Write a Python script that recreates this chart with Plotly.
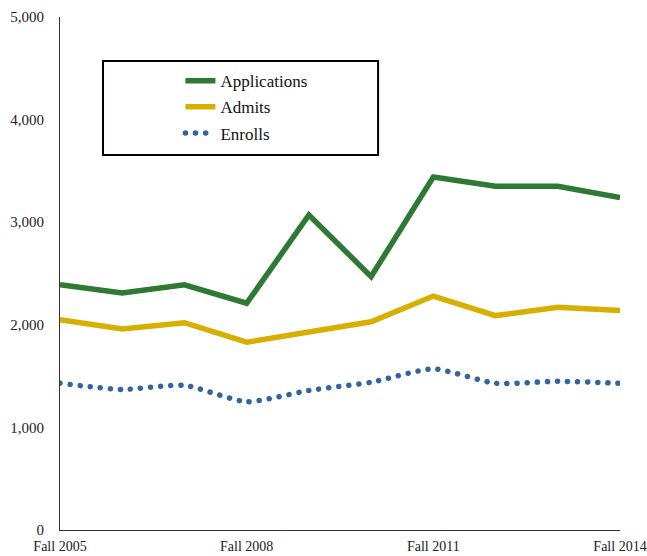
import plotly.graph_objects as go

years = ["Fall 2005", "Fall 2006", "Fall 2007", "Fall 2008", "Fall 2009",
         "Fall 2010", "Fall 2011", "Fall 2012", "Fall 2013", "Fall 2014"]
applications = [2390, 2310, 2390, 2210, 3070, 2470, 3440, 3350, 3350, 3240]
admits = [2050, 1960, 2020, 1830, 1930, 2030, 2280, 2090, 2170, 2140]
enrolls = [1430, 1370, 1410, 1250, 1360, 1440, 1570, 1430, 1450, 1430]
tick_labels = ["Fall 2005", "Fall 2008", "Fall 2011", "Fall 2014"]
y_ticks = [0, 1000, 2000, 3000, 4000, 5000]

FONT = "Liberation Serif"
BLUE = "#33649E"

fig = go.Figure()
fig.add_trace(go.Scatter(x=years, y=applications, name="Applications", mode="lines",
                         line=dict(color="#2E7A35", width=5.5), legendgroup="a"))
fig.add_trace(go.Scatter(x=years, y=admits, name="Admits", mode="lines",
                         line=dict(color="#D6AF00", width=5.5), legendgroup="b"))
fig.add_trace(go.Scatter(x=years, y=enrolls, name="Enrolls", mode="lines",
                         line=dict(color=BLUE, width=5.5, dash="dot", shape="spline", smoothing=0.6),
                         legendgroup="c"))

fig.update_layout(
    width=647, height=556,
    margin=dict(l=60, r=27, t=17, b=26),
    paper_bgcolor="white", plot_bgcolor="white",
    font=dict(family=FONT, color="#222222", size=14),
    showlegend=True,
    legend=dict(x=0.215, y=0.91, xanchor="left", yanchor="top",
                font=dict(family=FONT, size=17, color="#111111"),
                bgcolor="rgba(0,0,0,0)", borderwidth=0,
                traceorder="grouped", tracegroupgap=1),
    shapes=[dict(type="rect", xref="paper", yref="paper",
                 x0=0.0768, x1=0.568, y0=0.731, y1=0.914,
                 line=dict(color="black", width=2), fillcolor="rgba(0,0,0,0)")],
)
fig.update_xaxes(
    type="category", range=[0, len(years) - 1], automargin=False,
    tickmode="array", tickvals=tick_labels, ticktext=tick_labels,
    showgrid=False, zeroline=False, showline=True, linecolor="#333333", linewidth=1,
    ticks="", ticklabelstandoff=3, tickfont=dict(family=FONT, size=14, color="#222222"),
)
fig.update_yaxes(
    range=[0, 5000], tickmode="array", tickvals=y_ticks, automargin=False,
    tickformat=",d", showgrid=False, zeroline=False,
    showline=True, linecolor="#333333", linewidth=1, ticks="",
    ticklabelstandoff=12, tickfont=dict(family=FONT, size=15, color="#222222"),
)

post = """
document.body.style.margin = '0';
document.body.style.overflow = 'hidden';
var gd = document.getElementById('{plot_id}');
gd.querySelectorAll('path.js-line').forEach(function(p){
  var s = (p.style.stroke || '').replace(/\\s/g,'');
  if (s === 'rgb(51,100,158)') {
    p.style.strokeLinecap = 'round';
    p.style.strokeDasharray = '0.1px,10px';
  }
});
"""

fig.write_html("out.html", post_script=post, config={"displayModeBar": False})
